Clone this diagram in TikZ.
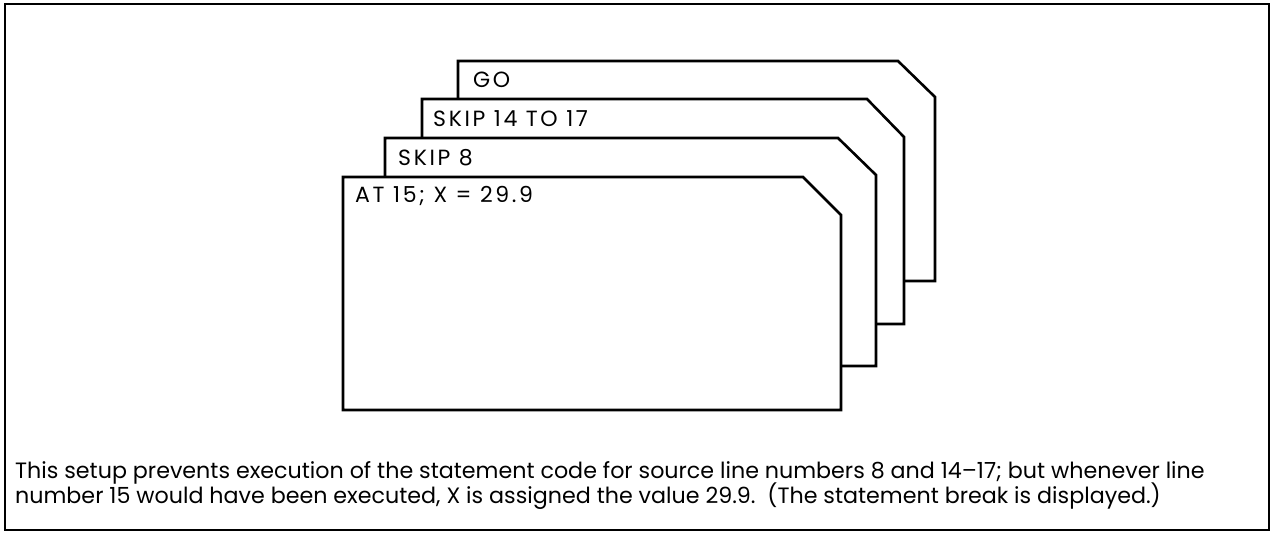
\documentclass[tikz,border=0pt]{standalone}
\usepackage{fontspec}
\setmainfont{Poppins}
\begin{document}
\begin{tikzpicture}[x=1pt,y=-1pt,
  card/.style={draw=black,fill=white,line width=2.6pt,line join=miter},
  cardlabel/.style={anchor=base west,inner sep=0pt,font=\fontsize{22}{26}\selectfont\addfontfeature{LetterSpace=12}},
  captionline/.style={anchor=base west,inner sep=0pt,font=\fontsize{22.2}{26}\selectfont}]
\useasboundingbox (0,0) rectangle (1273,535);
\draw[line width=2.8pt] (5,4) rectangle (1269,530);
% cards, back to front
\draw[card] (458,61) -- (898,61) -- (935,97) -- (935,281) -- (458,281) -- cycle;
\draw[card] (422,99) -- (867,99) -- (904,137) -- (904,324) -- (422,324) -- cycle;
\draw[card] (385,138) -- (838,138) -- (876,175) -- (876,366) -- (385,366) -- cycle;
\draw[card] (343,177) -- (803,177) -- (841,215) -- (841,410) -- (343,410) -- cycle;
\node[cardlabel] (go) at (473,87) {GO};
\node[cardlabel] (skipb) at (433,126) {SKIP 14 TO 17};
\node[cardlabel] (skipa) at (398,165) {SKIP 8};
\node[cardlabel] (at) at (355,202) {AT 15; X = 29.9};
\node[captionline] (capa) at (15,478) {This setup prevents execution of the statement code for source line numbers 8 and 14--17; but whenever line};
\node[captionline] (capb) at (15,503) {number 15 would have been executed, X is assigned the value 29.9.\ \ (The statement break is displayed.)};
\end{tikzpicture}
\end{document}
